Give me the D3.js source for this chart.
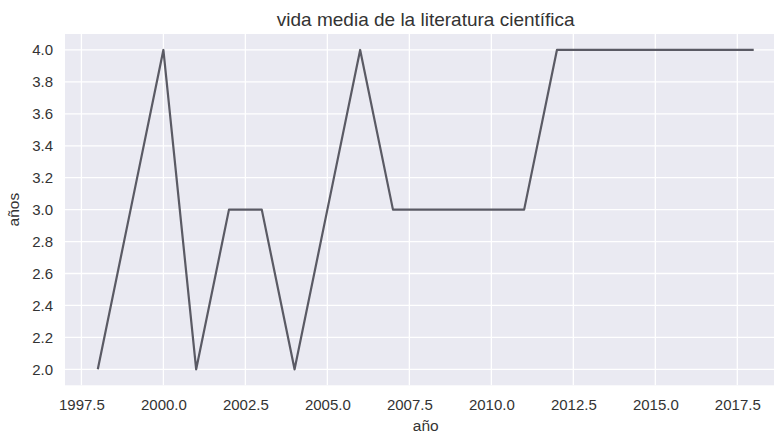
<!DOCTYPE html>
<html>
<head>
<meta charset="utf-8">
<script src="https://cdn.jsdelivr.net/npm/d3@7"></script>
<style>
  body { margin: 0; background: #fff; }
  svg { font-family: "Liberation Sans", Arial, sans-serif; }
</style>
</head>
<body>
<svg id="chart" width="774" height="433"></svg>
<script>
// data
const years = [1998, 1999, 2000, 2001, 2002, 2003, 2004, 2005, 2006, 2007, 2008,
  2009, 2010, 2011, 2012, 2013, 2014, 2015, 2016, 2017, 2018];
const halfLife = [2, 3, 4, 2, 3, 3, 2, 3, 4, 3, 3, 3, 3, 3, 4, 4, 4, 4, 4, 4, 4];
const xTicks = [1997.5, 2000, 2002.5, 2005, 2007.5, 2010, 2012.5, 2015, 2017.5];
const yTicks = [2.0, 2.2, 2.4, 2.6, 2.8, 3.0, 3.2, 3.4, 3.6, 3.8, 4.0];

const data = years.map((y, i) => ({ year: y, value: halfLife[i] }));

// Set up the SVG (plot runs past the right edge, as in the original crop)
const svg = d3.select("#chart");
const margin = { top: 34, left: 65 };
const width = 786.5 - margin.left;
const height = 385.3 - margin.top;
const g = svg.append("g")
  .attr("transform", `translate(${margin.left},${margin.top})`);

// Scales
const x = d3.scaleLinear().domain([1997, 2019]).range([0, width]);
const y = d3.scaleLinear().domain([1.9, 4.1]).range([height, 0]);

// Background
g.append("rect")
  .attr("width", width)
  .attr("height", height)
  .attr("fill", "#eaeaf2");

// Grid
g.append("g").selectAll("line")
  .data(xTicks).enter().append("line")
  .attr("x1", d => x(d)).attr("x2", d => x(d))
  .attr("y1", 0).attr("y2", height)
  .attr("stroke", "#fff").attr("stroke-width", 1.3);
g.append("g").selectAll("line")
  .data(yTicks).enter().append("line")
  .attr("y1", d => y(d)).attr("y2", d => y(d))
  .attr("x1", 0).attr("x2", width)
  .attr("stroke", "#fff").attr("stroke-width", 1.3);

// Axes
const xAxis = g.append("g")
  .attr("transform", `translate(0,${height})`)
  .call(d3.axisBottom(x).tickValues(xTicks).tickFormat(d3.format(".1f")).tickSize(0).tickPadding(14));
const yAxis = g.append("g")
  .call(d3.axisLeft(y).tickValues(yTicks).tickFormat(d3.format(".1f")).tickSize(0).tickPadding(12));
[xAxis, yAxis].forEach(a => {
  a.select(".domain").remove();
  a.selectAll("text").attr("fill", "#333").style("font-size", "15px");
});

// Line
const line = d3.line().x(d => x(d.year)).y(d => y(d.value));
g.append("path")
  .datum(data)
  .attr("fill", "none")
  .attr("stroke", "#5a5a64")
  .attr("stroke-width", 2.2)
  .attr("stroke-linejoin", "round")
  .attr("d", line);

// Title and labels
svg.append("text")
  .attr("x", margin.left + width / 2).attr("y", 26)
  .attr("text-anchor", "middle")
  .attr("fill", "#333").style("font-size", "19px")
  .text("vida media de la literatura científica");
svg.append("text")
  .attr("x", margin.left + width / 2).attr("y", 431)
  .attr("text-anchor", "middle")
  .attr("fill", "#333").style("font-size", "15.5px")
  .text("año");
svg.append("text")
  .attr("transform", `translate(19,${margin.top + height / 2}) rotate(-90)`)
  .attr("text-anchor", "middle")
  .attr("fill", "#333").style("font-size", "15.5px")
  .text("años");
</script>
</body>
</html>
